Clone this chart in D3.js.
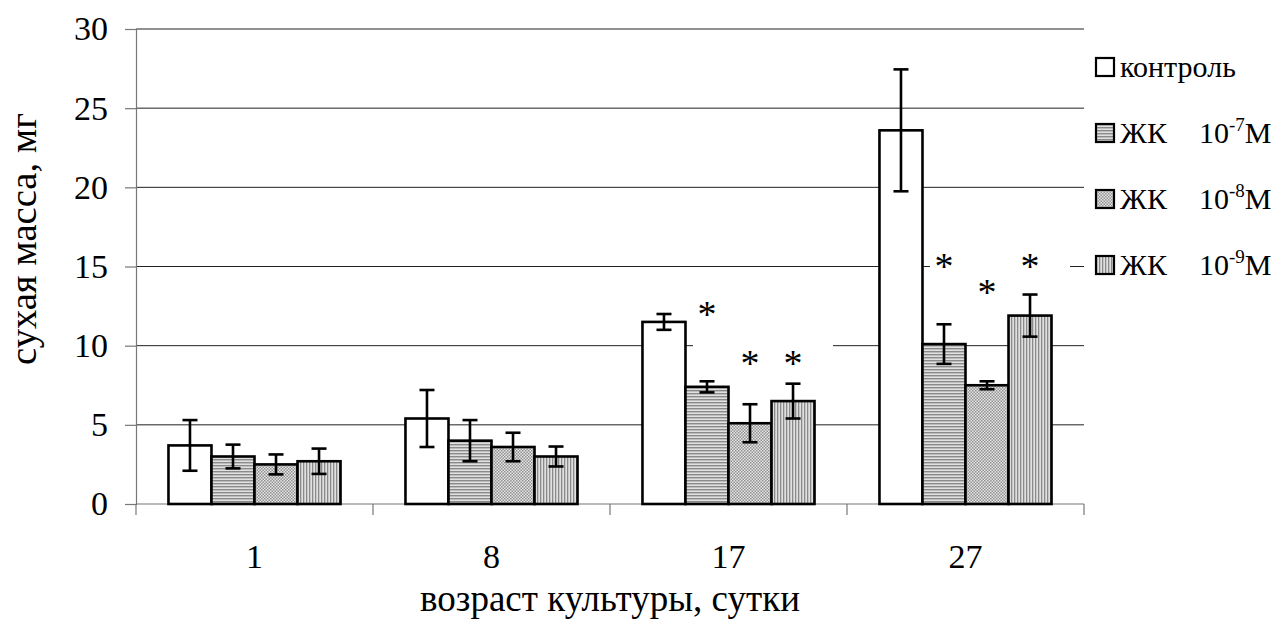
<!DOCTYPE html>
<html>
<head>
<meta charset="utf-8">
<script src="https://cdn.jsdelivr.net/npm/d3@7"></script>
<style>
  body { margin: 0; background: #fff; }
</style>
</head>
<body>
<script>
// chart data
var categories = ["1", "8", "17", "27"];
var seriesNames = ["контроль", "ЖК", "ЖК", "ЖК"];
var seriesPowers = [null, "-7", "-8", "-9"];
var control    = [3.7, 5.4, 11.5, 23.6];
var controlErr = [1.6, 1.8, 0.5, 3.85];
var zk7        = [3.0, 4.0, 7.4, 10.1];
var zk7Err     = [0.75, 1.3, 0.35, 1.25];
var zk8        = [2.5, 3.6, 5.1, 7.5];
var zk8Err     = [0.63, 0.9, 1.2, 0.25];
var zk9        = [2.7, 3.0, 6.5, 11.9];
var zk9Err     = [0.8, 0.63, 1.1, 1.33];
var yTicks     = [0, 5, 10, 15, 20, 25, 30];
// significance marks: category, series index, height (in mg) of the asterisk
var starCats   = ["17", "17", "17", "27", "27", "27"];
var starSeries = [1, 2, 3, 1, 2, 3];
var starLevels = [12.4, 9.3, 9.3, 15.4, 13.8, 15.4];

var FONT = "'Liberation Serif'";
var W = 1272, H = 621;
var margin = {top: 29, left: 136, right: 188, bottom: 117};

var svg = d3.select("body").append("svg")
    .attr("width", W)
    .attr("height", H)
    .style("font-family", FONT);

// size a text so that it runs over a given length
function fitText(t, len) {
  t.style("font-size", "100px");
  var n = t.node().getComputedTextLength();
  t.style("font-size", (100 * len / n) + "px");
}

// fill patterns
var defs = svg.append("defs");

var p1 = defs.append("pattern").attr("id", "hstripe")
    .attr("patternUnits", "userSpaceOnUse").attr("width", 4).attr("height", 3);
p1.append("rect").attr("width", 4).attr("height", 3).attr("fill", "#e0e0e0");
p1.append("rect").attr("width", 4).attr("height", 1.4).attr("fill", "#8a8a8a");

var p2 = defs.append("pattern").attr("id", "checker")
    .attr("patternUnits", "userSpaceOnUse").attr("width", 3).attr("height", 3);
p2.append("rect").attr("width", 3).attr("height", 3).attr("fill", "#e6e6e6");
p2.append("rect").attr("width", 1.5).attr("height", 1.5).attr("fill", "#909090");
p2.append("rect").attr("x", 1.5).attr("y", 1.5).attr("width", 1.5).attr("height", 1.5).attr("fill", "#909090");

var p3 = defs.append("pattern").attr("id", "vstripe")
    .attr("patternUnits", "userSpaceOnUse").attr("width", 3).attr("height", 4);
p3.append("rect").attr("width", 3).attr("height", 4).attr("fill", "#e0e0e0");
p3.append("rect").attr("width", 1.3).attr("height", 4).attr("fill", "#8a8a8a");

var fills = ["#fff", "url(#hstripe)", "url(#checker)", "url(#vstripe)"];

// scales
var x0 = d3.scaleBand()
    .domain(categories)
    .range([margin.left, W - margin.right])
    .paddingInner(0.274)
    .paddingOuter(0.137);

var x1 = d3.scaleBand()
    .domain([0, 1, 2, 3])
    .range([0, x0.bandwidth()]);

var y = d3.scaleLinear()
    .domain([0, 30])
    .range([H - margin.bottom, margin.top]);

// gridlines
svg.append("g").selectAll("line")
    .data(yTicks.slice(1))
  .enter().append("line")
    .attr("x1", margin.left).attr("x2", W - margin.right)
    .attr("y1", function(d) { return y(d); })
    .attr("y2", function(d) { return y(d); })
    .attr("stroke", "#222")
    .attr("stroke-width", 1);

// y axis
var yAxis = svg.append("g")
    .attr("transform", "translate(" + margin.left + ",0)")
    .call(d3.axisLeft(y).tickValues(yTicks).tickSize(11).tickPadding(17));
yAxis.attr("font-family", null).attr("font-size", null);
yAxis.select(".domain").attr("stroke", "#777").attr("stroke-width", 1.2);
yAxis.selectAll(".tick line").attr("stroke", "#777").attr("stroke-width", 1.2);
yAxis.selectAll("text").style("font-size", "34px").style("font-family", FONT).attr("fill", "#000");

// x axis: baseline, ticks at category boundaries, labels at centres
var step = x0.step();
var bounds = d3.range(categories.length + 1).map(function(i) { return margin.left + i * step; });
svg.append("line")
    .attr("x1", margin.left).attr("x2", W - margin.right)
    .attr("y1", y(0)).attr("y2", y(0))
    .attr("stroke", "#777").attr("stroke-width", 1.2);
svg.append("g").selectAll("line")
    .data(bounds)
  .enter().append("line")
    .attr("x1", function(d) { return d; }).attr("x2", function(d) { return d; })
    .attr("y1", y(0)).attr("y2", y(0) + 11)
    .attr("stroke", "#777").attr("stroke-width", 1.2);
svg.append("g").selectAll("text")
    .data(categories)
  .enter().append("text")
    .attr("x", function(d) { return x0(d) + x0.bandwidth() / 2; })
    .attr("y", 568)
    .attr("text-anchor", "middle")
    .style("font-size", "34px")
    .style("font-family", FONT)
    .text(function(d) { return d; });

// bars
var series = [control, zk7, zk8, zk9];
var errs = [controlErr, zk7Err, zk8Err, zk9Err];
var rows = [];
categories.forEach(function(c, i) {
  series.forEach(function(s, j) {
    rows.push({cat: c, s: j, v: s[i], e: errs[j][i]});
  });
});

svg.append("g").selectAll("rect")
    .data(rows)
  .enter().append("rect")
    .attr("x", function(d) { return x0(d.cat) + x1(d.s); })
    .attr("y", function(d) { return y(d.v); })
    .attr("width", x1.bandwidth())
    .attr("height", function(d) { return y(0) - y(d.v); })
    .attr("fill", function(d) { return fills[d.s]; })
    .attr("stroke", "#000")
    .attr("stroke-width", 2.6);

// white boxes behind the asterisks (they break the gridlines)
var stars = starCats.map(function(c, i) {
  return {
    cat: c,
    x: x0(c) + x1(starSeries[i]) + x1.bandwidth() / 2,
    y: y(starLevels[i])
  };
});
d3.groups(stars, function(d) { return d.cat; }).forEach(function(g) {
  var pts = g[1];
  var xa = d3.min(pts, function(d) { return d.x; }) - 14;
  var xb = d3.max(pts, function(d) { return d.x; }) + 40;
  var ya = d3.min(pts, function(d) { return d.y; }) - 30;
  var yb = d3.max(pts, function(d) { return d.y; }) + 8;
  svg.append("rect")
    .attr("x", xa).attr("y", ya)
    .attr("width", xb - xa).attr("height", yb - ya)
    .attr("fill", "#fff");
});

// error bars
var eb = svg.append("g").attr("stroke", "#000").attr("stroke-width", 2.6);
rows.forEach(function(d) {
  var cx = x0(d.cat) + x1(d.s) + x1.bandwidth() / 2;
  eb.append("line").attr("x1", cx).attr("x2", cx)
    .attr("y1", y(d.v + d.e)).attr("y2", y(d.v - d.e));
  eb.append("line").attr("x1", cx - 7.5).attr("x2", cx + 7.5)
    .attr("y1", y(d.v + d.e)).attr("y2", y(d.v + d.e));
  eb.append("line").attr("x1", cx - 7.5).attr("x2", cx + 7.5)
    .attr("y1", y(d.v - d.e)).attr("y2", y(d.v - d.e));
});

// asterisks
svg.append("g").selectAll("text")
    .data(stars)
  .enter().append("text")
    .attr("x", function(d) { return d.x; })
    .attr("y", function(d) { return d.y + 19; })
    .attr("text-anchor", "middle")
    .style("font-size", "38px")
    .style("font-family", FONT)
    .text("*");

// axis titles
var yTitle = svg.append("text")
    .attr("transform", "translate(36,239) rotate(-90)")
    .attr("text-anchor", "middle")
    .style("font-family", FONT)
    .text("сухая масса, мг");
fitText(yTitle, 252);

var xTitle = svg.append("text")
    .attr("x", (margin.left + W - margin.right) / 2)
    .attr("y", 611)
    .attr("text-anchor", "middle")
    .style("font-family", FONT)
    .text("возраст культуры, сутки");
fitText(xTitle, 380);

// legend
var legY = [67, 133, 199, 265];
var leg = svg.append("g");
seriesNames.forEach(function(name, i) {
  var g = leg.append("g").attr("transform", "translate(1096," + legY[i] + ")");
  g.append("rect")
    .attr("x", 0).attr("y", -9).attr("width", 18).attr("height", 18)
    .attr("fill", fills[i]).attr("stroke", "#000").attr("stroke-width", 2.2);
  g.append("text")
    .attr("x", 24).attr("y", 10)
    .style("font-size", "30px")
    .style("font-family", FONT)
    .text(name);
  if (seriesPowers[i]) {
    var t = g.append("text").attr("x", 103).attr("y", 10)
        .style("font-size", "30px").style("font-family", FONT);
    t.append("tspan").text("10");
    t.append("tspan").attr("dy", -12).style("font-size", "19px").text(seriesPowers[i]);
    t.append("tspan").attr("dy", 12).text("М");
  }
});
</script>
</body>
</html>
